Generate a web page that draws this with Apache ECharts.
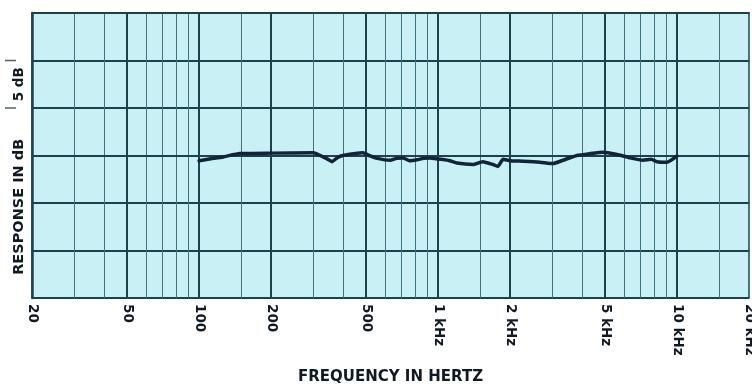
<!DOCTYPE html>
<html>
<head>
<meta charset="utf-8">
<script src="https://cdn.jsdelivr.net/npm/echarts@6/dist/echarts.min.js"></script>
<style>
  html, body { margin: 0; padding: 0; background: #ffffff; }
  #chart { width: 752px; height: 386px; }
</style>
</head>
<body>
<div id="chart"></div>
<script>
// Measured frequency response trace (Hz, dB relative to reference level)
const freqHz = [100, 112, 126, 148, 200, 300, 343, 360, 380, 400, 485, 520, 556, 630, 670, 713, 760,
  816, 870, 925, 1050, 1120, 1200, 1400, 1540, 1700, 1780, 1870, 2000, 2270, 2670, 3030, 3330,
  3810, 4330, 4900, 5610, 6360, 7200, 7800, 8240, 9080, 10000];
const responseDb = [-0.55, -0.35, -0.15, 0.2, 0.25, 0.28, -0.35, -0.65, -0.2, 0.0, 0.28, -0.05, -0.3, -0.5, -0.3, -0.25, -0.55,
  -0.45, -0.3, -0.25, -0.42, -0.55, -0.8, -0.95, -0.65, -0.95, -1.15, -0.4, -0.55, -0.6, -0.7, -0.85, -0.5,
  0.0, 0.2, 0.35, 0.1, -0.25, -0.5, -0.4, -0.65, -0.7, -0.05];

// Frequency axis labels
const labelFreqs = [20, 50, 100, 200, 500, 1000, 2000, 5000, 10000, 20000];
const labelTexts = ['20', '50', '100', '200', '500', '1 kHz', '2 kHz', '5 kHz', '10 kHz', '20 kHz'];

// Chart-paper grid rulings
const majorGridFreqs = [50, 100, 200, 500, 1000, 2000, 5000, 10000];
const minorGridFreqs = [30, 40, 60, 70, 80, 90, 150, 300, 400, 600, 700, 800, 900, 1500,
  3000, 4000, 6000, 7000, 8000, 9000, 15000];

// Response scale (dB) and the 5 dB reference bar
const dbMin = -15, dbMax = 15, dbStep = 5;
const scaleBarDb = [5, 10];

const INK = '#111a22';
const RULE = '#1b434e';
const FONT = 'DejaVu Sans';

const chart = echarts.init(document.getElementById('chart'), null, { renderer: 'canvas' });

const labelMap = {};
labelFreqs.forEach((f, i) => { labelMap[f] = labelTexts[i]; });

chart.setOption({
  animation: false,
  grid: {
    left: 32, right: 3, top: 13, bottom: 88,
    outerBoundsMode: 'none',
    containLabel: false,
    show: true,
    backgroundColor: '#c9f1f5',
    borderColor: RULE,
    borderWidth: 1.5
  },
  xAxis: [
    {
      type: 'log', logBase: 10, min: 20, max: 20000, position: 'bottom',
      name: 'FREQUENCY IN HERTZ', nameLocation: 'middle', nameGap: 72,
      nameMoveOverlap: false,
      nameTextStyle: { fontFamily: FONT, fontWeight: 'bold', fontSize: 15, color: INK },
      axisLine: { show: true, lineStyle: { color: RULE, width: 2 } },
      axisTick: { show: false, customValues: majorGridFreqs },
      axisLabel: {
        customValues: labelFreqs, rotate: -90, margin: 6,
        fontFamily: FONT, fontWeight: 'bold', fontSize: 13.5, color: INK,
        formatter: v => labelMap[Math.round(v)] || ''
      },
      splitLine: { show: true, lineStyle: { color: RULE, width: 2 } },
      minorTick: { show: false }, minorSplitLine: { show: false }
    },
    {
      type: 'log', logBase: 10, min: 20, max: 20000, position: 'top',
      axisLine: { show: true, lineStyle: { color: RULE, width: 1.5 } },
      axisTick: { show: false, customValues: minorGridFreqs },
      axisLabel: { show: false },
      splitLine: { show: true, lineStyle: { color: '#3f727d', width: 1 } }
    }
  ],
  yAxis: [
    {
      type: 'value', min: dbMin, max: dbMax, interval: dbStep,
      axisLine: { show: true, lineStyle: { color: RULE, width: 2.5 } },
      axisTick: { show: false },
      axisLabel: { show: false },
      splitLine: { show: true, lineStyle: { color: RULE, width: 2 } }
    }
  ],
  series: [
    {
      type: 'line',
      xAxisIndex: 0, yAxisIndex: 0,
      data: freqHz.map((f, i) => [f, responseDb[i]]),
      showSymbol: false,
      smooth: 0.15,
      lineStyle: { color: '#12233a', width: 3.5, cap: 'round', join: 'round' },
      z: 5
    }
  ]
});

// Side annotations: response label and the 5 dB scale bar, placed from the dB scale
const [, yTop] = chart.convertToPixel({ gridIndex: 0 }, [20, scaleBarDb[1]]);
const [, yBot] = chart.convertToPixel({ gridIndex: 0 }, [20, scaleBarDb[0]]);
const [, yName] = chart.convertToPixel({ gridIndex: 0 }, [20, -5.4]);

chart.setOption({
  graphic: [
    { type: 'line', shape: { x1: 5, y1: yTop, x2: 16, y2: yTop }, style: { stroke: '#55606a', lineWidth: 1.5 } },
    { type: 'line', shape: { x1: 5, y1: yBot, x2: 16, y2: yBot }, style: { stroke: '#55606a', lineWidth: 1.5 } },
    {
      type: 'text', x: 19, y: (yTop + yBot) / 2, rotation: Math.PI / 2,
      style: { text: '5 dB', fontFamily: FONT, fontWeight: 'bold', fontSize: 13.5, fill: INK,
        align: 'center', verticalAlign: 'middle' }
    },
    {
      type: 'text', x: 19, y: yName, rotation: Math.PI / 2,
      style: { text: 'RESPONSE IN dB', fontFamily: FONT, fontWeight: 'bold', fontSize: 14.5, fill: INK,
        align: 'center', verticalAlign: 'middle' }
    }
  ]
});
</script>
</body>
</html>
